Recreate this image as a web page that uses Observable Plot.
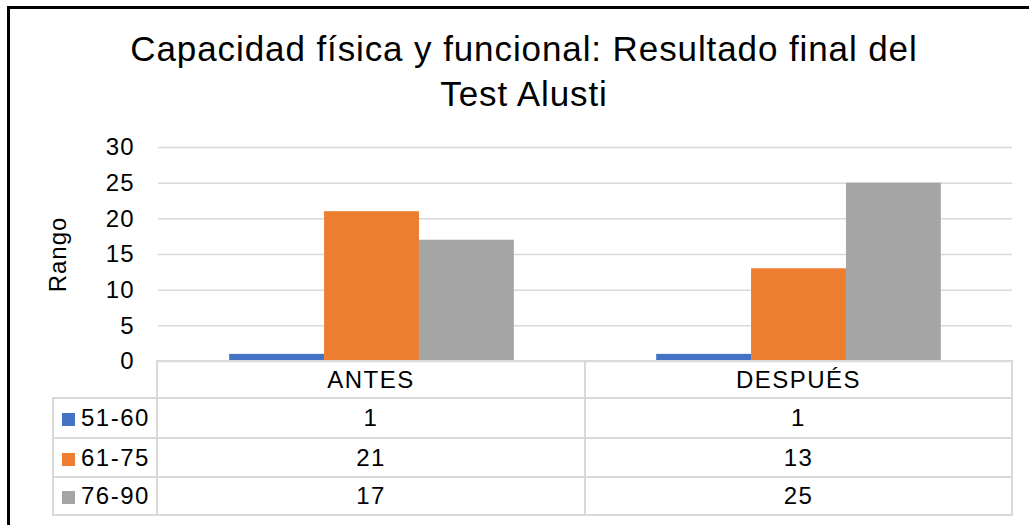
<!DOCTYPE html>
<html><head><meta charset="utf-8">
<script src="https://cdn.jsdelivr.net/npm/d3@7"></script>
<script src="https://cdn.jsdelivr.net/npm/@observablehq/plot@0.6"></script>
<style>
body{margin:0;background:#fff;width:1029px;height:525px;overflow:hidden;position:relative;font-family:"Liberation Sans",Arial,sans-serif;color:#000;}
#frame{position:absolute;left:7px;top:6px;width:1040px;height:540px;border-left:3px solid #000;border-top:3px solid #000;}
#title{position:absolute;left:0;width:1048px;top:26px;text-align:center;font-size:35px;letter-spacing:0.9px;line-height:45px;}
#chart{position:absolute;left:0;top:120px;}
#tbl{position:absolute;left:52px;top:360px;border-collapse:collapse;table-layout:fixed;font-size:24px;letter-spacing:1.5px;}
#tbl td{border:2px solid #D9D9D9;text-align:center;padding:0;vertical-align:middle;}
#tbl td.corner{border-top:none;border-left:none;}
#tbl td.lab{text-align:left;padding-left:8px;white-space:nowrap;}
.sw{display:inline-block;width:13px;height:13px;margin-right:6px;vertical-align:0px;}
</style>
</head><body>
<div id="frame"></div>
<div id="title">Capacidad física y funcional: Resultado final del<br>Test Alusti</div>
<div id="chart"></div>
<table id="tbl"><colgroup><col style="width:104px"><col style="width:428px"><col style="width:427px"></colgroup></table>
<script>
const categories = ["ANTES", "DESPUÉS"];
const series = ["51-60", "61-75", "76-90"];
const antes = [1, 21, 17];
const despues = [1, 13, 25];
const colors = ["#4472C4", "#ED7D31", "#A5A5A5"];
const yTicks = [0, 5, 10, 15, 20, 25, 30];
const rowHeights = [37, 40, 39, 38];

const data = series.flatMap((s, i) => [
  {cat: categories[0], serie: s, value: antes[i]},
  {cat: categories[1], serie: s, value: despues[i]}
]);

const chart = Plot.plot({
  width: 1029,
  height: 241,
  marginLeft: 157,
  marginRight: 17,
  marginTop: 27,
  marginBottom: 0,
  fx: {domain: categories, padding: 0, axis: null},
  x: {domain: series, paddingInner: 0, paddingOuter: 0.75, round: false, axis: null},
  y: {domain: [0, 30]},
  color: {domain: series, range: colors},
  style: {fontFamily: "'Liberation Sans', Arial, sans-serif", fontSize: "24px", color: "#000", background: "transparent", letterSpacing: "1px", overflow: "visible"},
  marks: [
    Plot.gridY(yTicks, {stroke: "#D9D9D9", strokeOpacity: 1, strokeWidth: 1.5}),
    Plot.barY(data, {fx: "cat", x: "serie", y: "value", fill: "serie"}),
    Plot.axisY(yTicks, {tickSize: 0, tickPadding: 24, fontSize: 24, label: "Rango", labelAnchor: "center", labelOffset: 110, labelArrow: "none"})
  ]
});
document.getElementById("chart").appendChild(chart);

const tbl = d3.select("#tbl");
const hdr = tbl.append("tr").style("height", rowHeights[0] + "px");
hdr.append("td").attr("class", "corner");
categories.forEach(c => hdr.append("td").text(c));
series.forEach((s, i) => {
  const tr = tbl.append("tr").style("height", rowHeights[i + 1] + "px");
  tr.append("td").attr("class", "lab")
    .html(`<span class="sw" style="background:${colors[i]}"></span>${s}`);
  [antes[i], despues[i]].forEach(v => tr.append("td").text(v));
});
</script>
</body></html>
